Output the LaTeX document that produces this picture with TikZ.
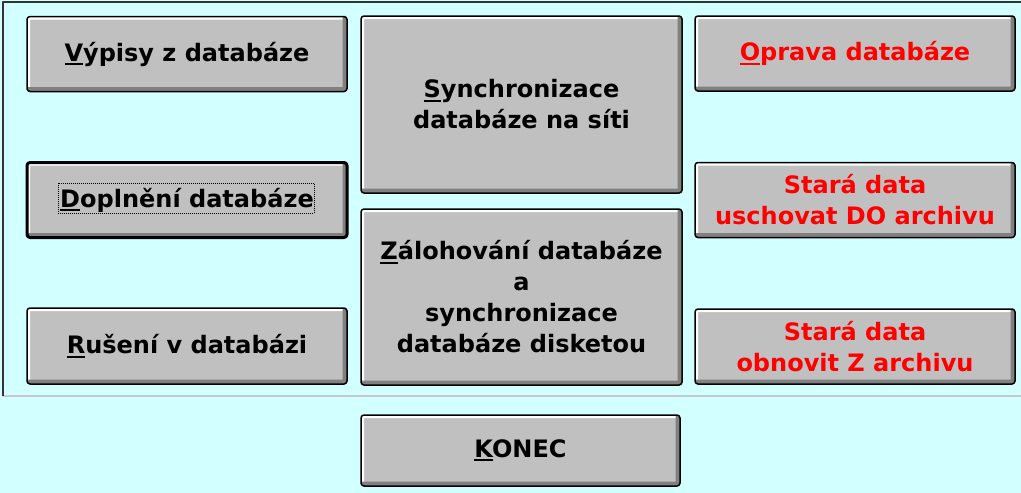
\documentclass[tikz,border=0pt]{standalone}
\usepackage{fontspec}
\setmainfont{DejaVu Sans}
\definecolor{okno}{RGB}{210,255,255}
\definecolor{tlacitko}{RGB}{192,192,192}
\definecolor{stin}{RGB}{128,128,128}
\definecolor{ramecek}{RGB}{200,200,200}
\newcommand\hotkey[1]{\setbox0\hbox{#1}\rlap{\rule[-4pt]{\wd0}{2pt}}#1}
\begin{document}
\begin{tikzpicture}[x=1pt, y=-1pt, line join=round,
    tlac/.style={rectangle, rounded corners=3pt, draw=black, line width=1.5pt,
      fill=tlacitko, inner sep=0pt, align=center,
      minimum width=320pt, minimum height=75pt,
      font=\fontsize{24}{31}\selectfont\bfseries,
      path picture={
        \draw[white, line width=6pt] (path picture bounding box.south west)
          -- (path picture bounding box.north west) -- (path picture bounding box.north east);
        \draw[stin, line width=9pt] (path picture bounding box.south west)
          -- (path picture bounding box.south east) -- (path picture bounding box.north east);}},
    vysoke/.style={minimum height=177pt},
    aktivni/.style={line width=3pt},
    varovani/.style={text=red}]
  \useasboundingbox (0,0) rectangle (1021,493);
  \fill[okno] (0,0) rectangle (1021,493);
  % ramecek skupiny
  \draw[ramecek, line width=1.5pt] (3,396) -- (1021,396);
  \draw[black!80, line width=2pt] (3,396) -- (3,2) -- (1021,2);
  % levy sloupec
  \node[tlac] (vypisy) at (187,54) {\hotkey{V}ýpisy z databáze};
  \node[tlac, aktivni] (doplneni) at (187,200) {\hotkey{D}oplnění databáze};
  \draw[densely dotted, line width=1pt]
    ([shift={(-129,-17)}]doplneni.center) rectangle ([shift={(127,13)}]doplneni.center);
  \node[tlac, minimum height=76pt] (ruseni) at (187,346) {\hotkey{R}ušení v databázi};
  % prostredni sloupec
  \node[tlac, vysoke, minimum width=321pt] (synchro) at (521.5,104.5)
    {\hotkey{S}ynchronizace\\databáze na síti};
  \node[tlac, vysoke, minimum width=321pt, minimum height=176pt] (zaloha) at (521.5,297)
    {\hotkey{Z}álohování databáze\\a\\synchronizace\\databáze disketou};
  % pravy sloupec
  \node[tlac, varovani] (oprava) at (855,53.5) {\hotkey{O}prava databáze};
  \node[tlac, varovani] (uschovat) at (855,200) {Stará data\\uschovat DO archivu};
  \node[tlac, varovani] (obnovit) at (855,346.5) {Stará data\\obnovit Z archivu};
  % konec
  \node[tlac, minimum width=319pt, minimum height=71pt] (konec) at (520.5,450.5) {\hotkey{K}ONEC};
\end{tikzpicture}
\end{document}
